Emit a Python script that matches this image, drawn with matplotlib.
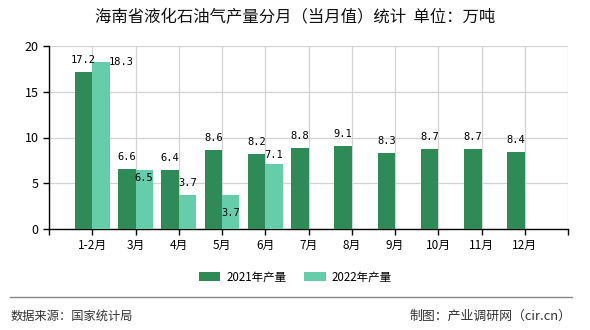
import matplotlib
matplotlib.use('Agg')
import matplotlib.pyplot as plt
import numpy as np

plt.rcParams['font.family'] = ['Noto Sans CJK SC', 'DejaVu Sans']

months = ['1-2月', '3月', '4月', '5月', '6月', '7月', '8月', '9月', '10月', '11月', '12月']
prod_2021 = [17.2, 6.6, 6.4, 8.6, 8.2, 8.8, 9.1, 8.3, 8.7, 8.7, 8.4]
prod_2022 = [18.3, 6.5, 3.7, 3.7, 7.1]

# label nudges (pixels) where the original shifted labels to avoid overlap
nudge_2022 = {0: (20, -12), 1: (0, -20.5), 3: (0, -30), 4: (0, -3)}

c21 = '#2E8B57'
c22 = '#66CDAA'

fig = plt.figure(figsize=(5.9, 3.3), dpi=100)
ax = fig.add_axes([49 / 590, 1 - 229 / 330, 519 / 590, 183 / 330])

x = np.arange(1, len(months) + 1)
w = 0.4
ax.bar(x - w / 2, prod_2021, width=w, color=c21, zorder=3, label='2021年产量')
x22 = x[:len(prod_2022)]
ax.bar(x22 + w / 2, prod_2022, width=w, color=c22, zorder=3, label='2022年产量')

px = 0.72  # points per pixel at dpi 100
for xi, v in zip(x - w / 2, prod_2021):
    ax.annotate(f'{v}', (xi, v), xytext=(0, 12 * px), textcoords='offset points',
                ha='center', va='center', fontsize=7.5, family='DejaVu Sans Mono', zorder=4)
for i, (xi, v) in enumerate(zip(x22 + w / 2, prod_2022)):
    dx, dy = nudge_2022.get(i, (0, 0))
    ax.annotate(f'{v}', (xi, v), xytext=(dx * px, (12 + dy) * px), textcoords='offset points',
                ha='center', va='center', fontsize=7.5, family='DejaVu Sans Mono', zorder=4)

ax.set_xlim(0, 12)
ax.set_ylim(0, 20)
ax.set_xticks(np.arange(0, 13))
ax.set_xticklabels([''] + months + [''], fontsize=8.5)
ax.set_yticks([0, 5, 10, 15, 20])
ax.tick_params(axis='y', labelsize=9, length=4, width=1)
ax.tick_params(axis='x', length=4, width=1, pad=3)
ax.grid(True, color='#d3d3d3', linewidth=0.9, zorder=0)
ax.set_axisbelow(True)
for s in ['top', 'right']:
    ax.spines[s].set_visible(False)
for s in ['left', 'bottom']:
    ax.spines[s].set_color('black')
    ax.spines[s].set_linewidth(1)

fig.text(0.5, 1 - 18 / 330, '海南省液化石油气产量分月（当月值）统计  单位：万吨',
         ha='center', va='center', fontsize=11.8, color='#111111')

fig.legend(loc='center', bbox_to_anchor=(0.5, 1 - 277 / 330), ncol=2, frameon=False,
           fontsize=8.3, handlelength=1.9, handleheight=0.9, columnspacing=1.5, handletextpad=0.5)

fig.add_artist(plt.Line2D([10 / 590, 572 / 590], [1 - 297 / 330] * 2,
                          transform=fig.transFigure, color='#888888', linewidth=1))
fig.text(11 / 590, 1 - 316 / 330, '数据来源：国家统计局', ha='left', va='center',
         fontsize=8.8, color='#333333')
fig.text(571 / 590, 1 - 316 / 330, '制图：产业调研网（cir.cn）', ha='right', va='center',
         fontsize=9.3, color='#333333')

fig.savefig('out.png', dpi=100)
